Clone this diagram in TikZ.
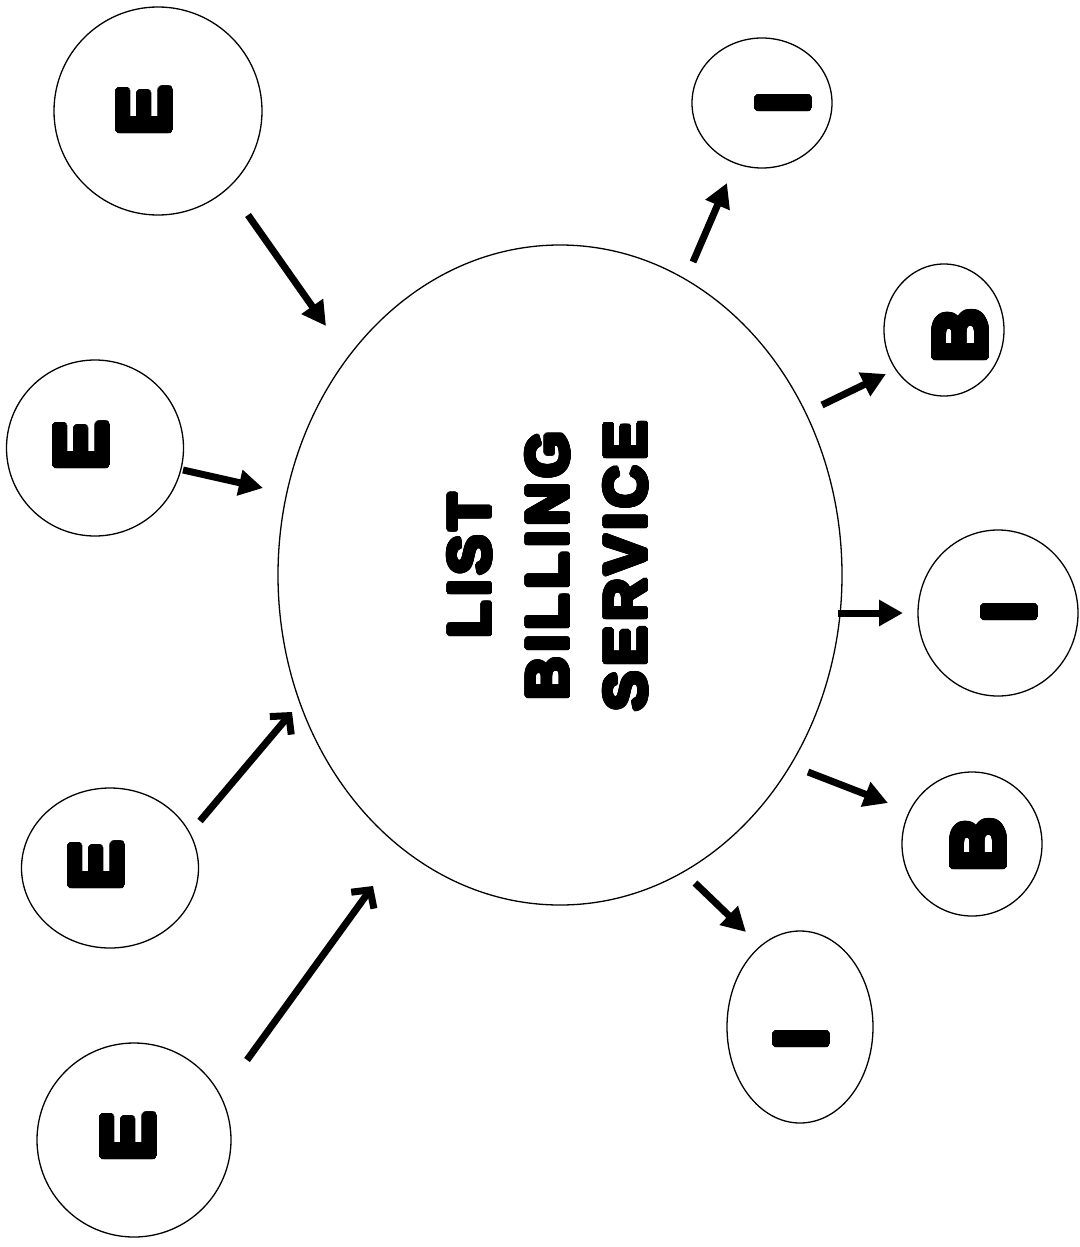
\documentclass[tikz,border=0pt]{standalone}
\usepackage{fontspec}
\usepackage[copies]{contour}
\usetikzlibrary{shapes.geometric,arrows.meta}
\newfontfamily\heavyfont{Liberation Sans}[UprightFont={* Bold}]
\newfontfamily\titlefont{Liberation Sans}[UprightFont={* Bold},LetterSpace=9]
\contournumber{32}

% heavy lettering: bold face thickened with a contour of its own colour
\newcommand\thick[2]{\contourlength{#1}\contour{black}{#2}}

\tikzset{
  bubble/.style={draw, ellipse, line width=1.3pt, inner sep=0pt},
  glyph/.style={inner sep=0pt, rotate=90, font=\heavyfont\fontsize{74}{74}\selectfont},
  flow/.style={line width=7pt, -{Triangle[length=24pt,width=25pt]}},
  feed/.style={line width=7pt, -{Straight Barb[length=13pt,width=28pt,line width=7pt]}}
}

\begin{document}
\begin{tikzpicture}[x=1pt,y=-1pt]
\useasboundingbox (0,0) rectangle (1079,1247);

% central service
\node[bubble, minimum width=564pt, minimum height=660pt] (svc) at (560,575) {};
\node[inner sep=0pt, rotate=90, align=center,
      font=\titlefont\fontsize{59}{78}\selectfont] (svct) at (549,566)
      {\thick{2.3pt}{LIST}\\\thick{2.3pt}{BILLING}\\\thick{2.3pt}{SERVICE}};

% inputs (E)
\node[bubble, minimum width=208pt, minimum height=208pt] (e1) at (158,111) {};
\node[glyph] (e1t) at (146,111) {\thick{3.2pt}{E}};
\node[bubble, minimum width=177pt, minimum height=176pt] (e2) at (95,448) {};
\node[glyph] (e2t) at (83,446) {\thick{3.2pt}{E}};
\node[bubble, minimum width=177pt, minimum height=160pt] (e3) at (110,868) {};
\node[glyph] (e3t) at (98,866) {\thick{3.2pt}{E}};
\node[bubble, minimum width=194pt, minimum height=194pt] (e4) at (134,1140) {};
\node[glyph] (e4t) at (130,1137) {\thick{3.2pt}{E}};

% outputs (I, B)
\node[bubble, minimum width=140pt, minimum height=130pt] (i1) at (762,103) {};
\node[glyph] (i1t) at (785,103) {\thick{3.2pt}{I}};
\node[bubble, minimum width=120pt, minimum height=132pt] (b1) at (944,330) {};
\node[glyph] (b1t) at (962,336) {\thick{3.2pt}{B}};
\node[bubble, minimum width=160pt, minimum height=166pt] (i2) at (998,613) {};
\node[glyph] (i2t) at (1011,612) {\thick{3.2pt}{I}};
\node[bubble, minimum width=140pt, minimum height=144pt] (b2) at (972,844) {};
\node[glyph] (b2t) at (980,845) {\thick{3.2pt}{B}};
\node[bubble, minimum width=146pt, minimum height=192pt] (i3) at (800,1027) {};
\node[glyph] (i3t) at (803,1039) {\thick{3.2pt}{I}};

% connector ends
\coordinate (a1s) at (248,215);  \coordinate (a1e) at (326,326);
\coordinate (a2s) at (183,470);  \coordinate (a2e) at (263,488);
\coordinate (a3s) at (200,821);  \coordinate (a3e) at (292,712);
\coordinate (a4s) at (247,1060); \coordinate (a4e) at (373,886);
\coordinate (b1s) at (693,262);  \coordinate (b1e) at (727,183);
\coordinate (b2s) at (822,405);  \coordinate (b2e) at (886,374);
\coordinate (b3s) at (838,613);  \coordinate (b3e) at (903,613);
\coordinate (b4s) at (808,772);  \coordinate (b4e) at (888,803);
\coordinate (b5s) at (695,883);  \coordinate (b5e) at (746,932);

% into the service
\draw[flow] (a1s) -- (a1e);
\draw[flow] (a2s) -- (a2e);
\draw[feed] (a3s) -- (a3e);
\draw[feed] (a4s) -- (a4e);

% out of the service
\draw[flow] (b1s) -- (b1e);
\draw[flow] (b2s) -- (b2e);
\draw[flow] (b3s) -- (b3e);
\draw[flow] (b4s) -- (b4e);
\draw[flow] (b5s) -- (b5e);
\end{tikzpicture}
\end{document}
